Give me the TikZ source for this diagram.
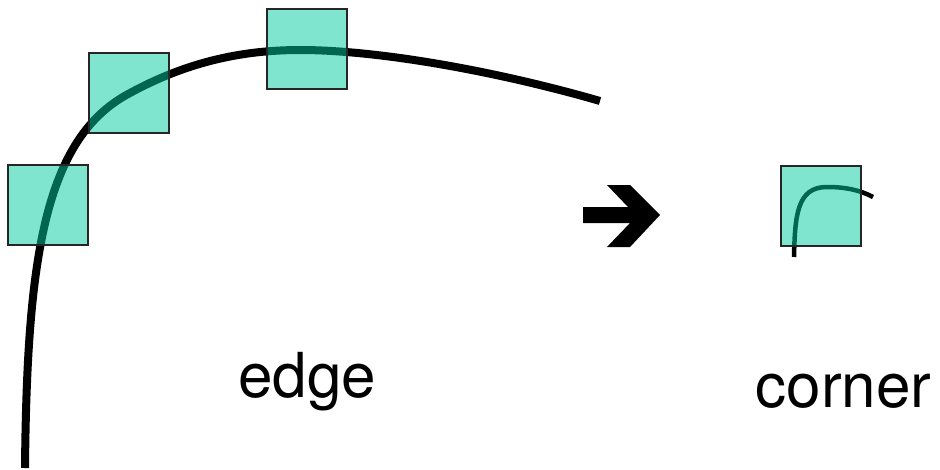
\documentclass[tikz,border=0pt]{standalone}
\usepackage{fontspec}
\setmainfont{TeX Gyre Heros}
\definecolor{patchteal}{RGB}{0,204,160}
\tikzset{
  patch/.style={draw=black!85, line width=1.6pt, fill=patchteal, fill opacity=0.5,
    minimum width=80pt, minimum height=80pt, inner sep=0pt, outer sep=0pt, anchor=north west},
  edgecurve/.style={line width=8pt, black},
  smallcurve/.style={line width=4.5pt, black},
  label/.style={font=\fontsize{62}{74}\selectfont, anchor=base, inner sep=0pt}
}
\begin{document}
\begin{tikzpicture}[x=1pt,y=-1pt]
\useasboundingbox (0,0) rectangle (940,469);
% big edge curve
\coordinate (c0) at (25,468);
\coordinate (c1) at (130,93);
\coordinate (c2) at (300,50);
\coordinate (c3) at (600,101);
\draw[edgecurve] (c0) .. controls (27,260) and (44,138) .. (c1)
  .. controls (185,63) and (240,50) .. (c2)
  .. controls (380,50) and (500,72) .. (c3);
% patches
\node[patch] (p1) at (8,165) {};
\node[patch] (p2) at (89,53) {};
\node[patch] (p3) at (267,9) {};
% arrow
\fill[black] (583,207) -- (628,207) -- (607,185) -- (630,185) -- (660,215)
  -- (630,247) -- (607,247) -- (630,223) -- (583,223) -- cycle;
% small corner patch
\coordinate (s0) at (794,257);
\coordinate (s1) at (827,187);
\coordinate (s2) at (873,197);
\draw[smallcurve] (s0) .. controls (795,215) and (797,187) .. (s1)
  .. controls (845,187) and (860,190) .. (s2);
\node[patch] (p4) at (781,166) {};
% labels
\node[label] (edgelbl) at (307,397) {edge};
\node[label] (cornerlbl) at (843.5,407) {corner};
\end{tikzpicture}
\end{document}
